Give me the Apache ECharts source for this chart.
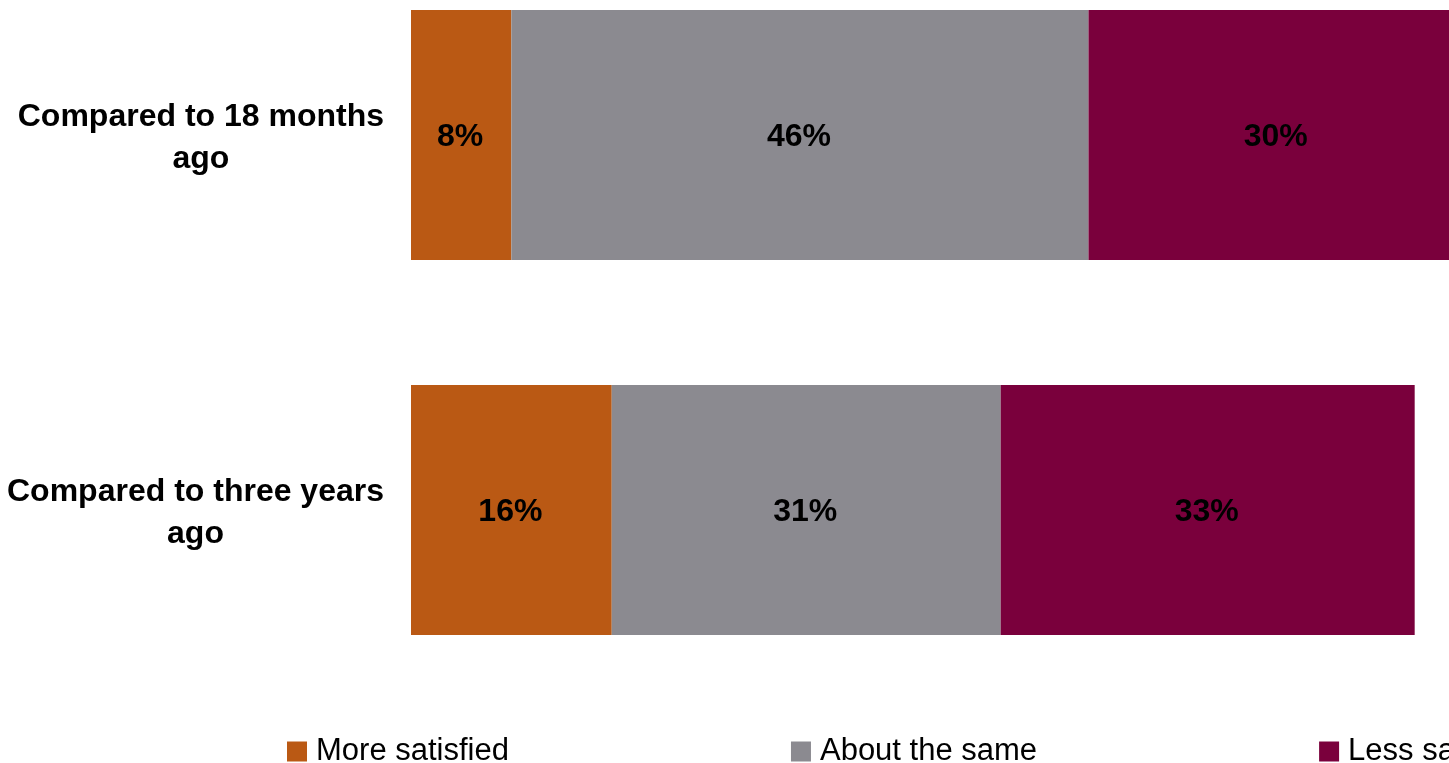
<!DOCTYPE html>
<html>
<head>
<meta charset="utf-8">
<script src="https://cdn.jsdelivr.net/npm/echarts@6/dist/echarts.min.js"></script>
<style>
html,body{margin:0;padding:0;overflow:hidden;background:#fff;width:1449px;height:763px;}
#c{position:absolute;left:0;top:-100px;width:1800px;height:900px;}
</style>
</head>
<body>
<div id="c"></div>
<script>
const categories = ["Compared to 18 months\nago", "Compared to three years\nago"];
const seriesNames = ["More satisfied", "About the same", "Less satisfied"];
const moreSatisfied = [8, 16];
const aboutSame = [46, 31];
const lessSatisfied = [30, 33];
const colors = ["#BA5914", "#8B8A90", "#7A003C"];

const chart = echarts.init(document.getElementById('c'), null, {renderer: 'canvas'});
const font = "Liberation Sans, Arial, sans-serif";
function mk(name, data, color) {
  return {
    name: name, type: 'bar', stack: 'total', data: data, barWidth: 250,
    itemStyle: {color: color},
    label: {show: true, position: 'inside', formatter: '{c}%', color: '#000', offset: [-1, 2],
      fontFamily: font, fontWeight: 'bold', fontSize: 32},
    emphasis: {disabled: true}
  };
}
chart.setOption({
  animation: false,
  textStyle: {fontFamily: font},
  grid: {left: 411, right: 134.4, top: 47.5, bottom: 102.5, containLabel: false},
  xAxis: {type: 'value', min: 0, max: 100, show: false, splitLine: {show: false}},
  yAxis: {
    type: 'category', data: categories, inverse: true,
    axisLine: {show: false}, axisTick: {show: false},
    axisLabel: {
      margin: 27, align: 'right', padding: [6, 0, 0, 0],
      formatter: function (v) { return v.split('\n').map(l => '{a|' + l + '}').join('\n'); },
      rich: {a: {align: 'center', fontFamily: font, fontWeight: 'bold', fontSize: 32, lineHeight: 42, color: '#000'}}
    }
  },
  legend: {
    left: 287, top: 836, orient: 'horizontal', itemWidth: 20, itemHeight: 20, itemGap: 282,
    padding: 0, icon: 'rect', selectedMode: false,
    textStyle: {fontFamily: font, fontSize: 31, color: '#000', lineHeight: 20, padding: [0, 0, 0, 4]},
    data: seriesNames
  },
  series: [
    mk(seriesNames[0], moreSatisfied, colors[0]),
    mk(seriesNames[1], aboutSame, colors[1]),
    mk(seriesNames[2], lessSatisfied, colors[2])
  ]
});
</script>
</body>
</html>
